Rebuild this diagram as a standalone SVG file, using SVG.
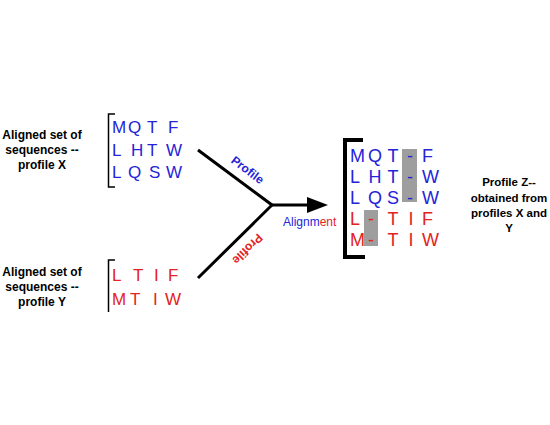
<svg xmlns="http://www.w3.org/2000/svg" width="550" height="425" viewBox="0 0 550 425">
<style>
.lbl{font-family:"Liberation Sans",Arial,sans-serif;font-size:12px;font-weight:bold;fill:#000;text-anchor:middle}
.lblz{font-size:11.5px}
.seq{font-family:"Liberation Sans",Arial,sans-serif;font-size:17px}
.seqz{font-size:18px}
.b{fill:#2424d8}
.r{fill:#e32222}
.m{text-anchor:middle}
.br{fill:none;stroke:#000;stroke-width:1.5}
.brk{fill:none;stroke:#000;stroke-width:4}
.gap{fill:#9e9e9e}
.conn{fill:none;stroke:#000;stroke-width:3}
.plab{font-family:"Liberation Sans",Arial,sans-serif;font-size:12px;font-weight:bold;text-anchor:middle}
</style>
<rect width="550" height="425" fill="#fff"/>

<g id="labelX">
<text class="lbl" x="42" y="139">Aligned set of</text>
<text class="lbl" x="42" y="154">sequences --</text>
<text class="lbl" x="42" y="169">profile X</text>
</g>

<g id="labelY">
<text class="lbl" x="42" y="276">Aligned set of</text>
<text class="lbl" x="42" y="291">sequences --</text>
<text class="lbl" x="42" y="306">profile Y</text>
</g>

<g id="profileX" class="seq b">
<path class="br" d="M115,114 H108.5 V187 H115"/>
<text x="112" y="133">M</text><text x="128" y="133">Q</text><text x="147" y="133">T</text><text x="168" y="133">F</text>
<text x="112" y="156">L</text><text x="131" y="156">H</text><text x="147" y="156">T</text><text x="166" y="156">W</text>
<text x="112" y="178">L</text><text x="128" y="178">Q</text><text x="149" y="178">S</text><text x="166" y="178">W</text>
</g>

<g id="profileY" class="seq r">
<path class="br" d="M115,260 H108.5 V312"/>
<text x="112" y="281">L</text><text x="133" y="281">T</text><text x="154" y="281">I</text><text x="168" y="281">F</text>
<text x="112" y="305">M</text><text x="130" y="305">T</text><text x="153" y="305">I</text><text x="165" y="305">W</text>
</g>

<g id="profileZ" class="seq seqz">
<path class="brk" d="M363,140 H345 V257 H365"/>
<rect class="gap" x="402" y="149" width="15" height="53"/>
<rect class="gap" x="364" y="210" width="14" height="36"/>
<g class="b">
<text x="350" y="162">M</text><text class="m" x="375" y="162">Q</text><text class="m" x="393" y="162">T</text><text class="m" x="410" y="162">-</text><text x="422" y="162">F</text>
<text x="350" y="183">L</text><text class="m" x="375" y="183">H</text><text class="m" x="393" y="183">T</text><text class="m" x="410" y="183">-</text><text x="422" y="183">W</text>
<text x="350" y="204">L</text><text class="m" x="375" y="204">Q</text><text class="m" x="393" y="204">S</text><text class="m" x="410" y="204">-</text><text x="422" y="204">W</text>
</g>
<g class="r">
<text x="350" y="225">L</text><text class="m" x="371" y="225">-</text><text class="m" x="393" y="225">T</text><text class="m" x="411" y="225">I</text><text x="422" y="225">F</text>
<text x="350" y="246">M</text><text class="m" x="371" y="246">-</text><text class="m" x="393" y="246">T</text><text class="m" x="411" y="246">I</text><text x="422" y="246">W</text>
</g>
</g>

<g id="labelZ">
<text class="lbl lblz" x="509" y="186">Profile Z--</text>
<text class="lbl lblz" x="509" y="202">obtained from</text>
<text class="lbl lblz" x="509" y="217">profiles X and</text>
<text class="lbl lblz" x="509" y="232">Y</text>
</g>

<g id="connectors">
<path class="conn" d="M198,150 L272,205 L198,278"/>
<path class="conn" d="M272,205 H310"/>
<polygon points="307,197 328,205 307,213" fill="#000"/>
<text class="plab b" transform="translate(247.5,170) rotate(37)" y="4">Profile</text>
<text class="plab r" transform="translate(247.5,249) rotate(135)" y="4">Profile</text>
<text x="283" y="226" font-family="Liberation Sans, Arial, sans-serif" font-size="12"><tspan fill="#2424d8">Alignm</tspan><tspan fill="#e32222">ent</tspan></text>
</g>
</svg>
